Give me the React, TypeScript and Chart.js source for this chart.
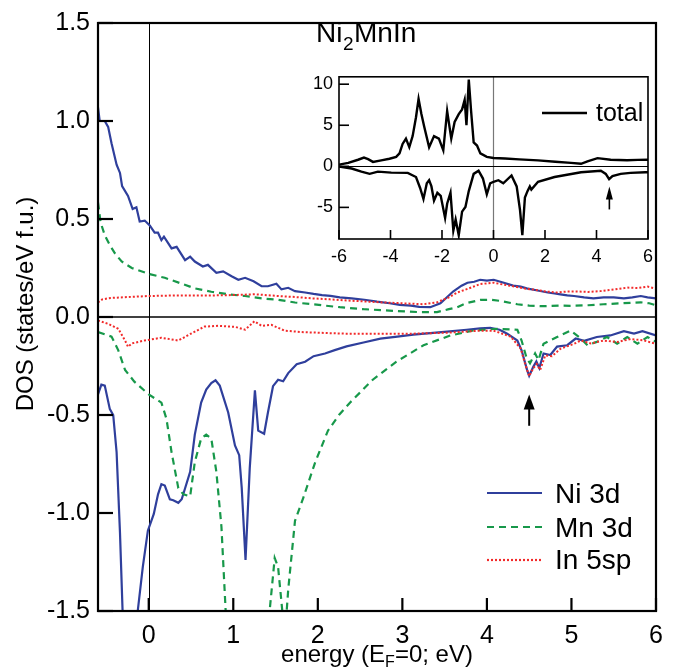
import React, { useEffect, useRef } from "react";
import { Chart, registerables } from "chart.js";
Chart.register(...registerables);

const FONT = '"Liberation Sans", Arial, Helvetica, sans-serif';
const BLUE = "#2f3f9c";
const GREEN = "#17984a";
const RED = "#f22a2a";

// ---------- main panel data: [energy (eV), DOS (states/eV f.u.)] ----------
const niUp: number[][] = [
  [-0.6, 1.07], [-0.58, 1.0], [-0.52, 1.0], [-0.48, 0.97], [-0.44, 0.886], [-0.38, 0.777], [-0.34, 0.735],
  [-0.315, 0.668], [-0.245, 0.618], [-0.19, 0.551], [-0.146, 0.56], [-0.107, 0.487], [-0.047, 0.492],
  [0.012, 0.467], [0.07, 0.43], [0.11, 0.43], [0.15, 0.392], [0.18, 0.41], [0.27, 0.35], [0.33, 0.358],
  [0.43, 0.29], [0.49, 0.308], [0.545, 0.283], [0.64, 0.258], [0.7, 0.266], [0.8, 0.225], [0.88, 0.233],
  [0.98, 0.208], [1.06, 0.19], [1.14, 0.2], [1.24, 0.182], [1.335, 0.157], [1.41, 0.157], [1.51, 0.17],
  [1.57, 0.141], [1.65, 0.149], [1.73, 0.132], [1.85, 0.125], [1.95, 0.118], [2.05, 0.112], [2.15, 0.108],
  [2.26, 0.1], [2.4, 0.095], [2.55, 0.088], [2.7, 0.078], [2.85, 0.07], [2.97, 0.062], [3.1, 0.058],
  [3.2, 0.052], [3.33, 0.05], [3.45, 0.07], [3.6, 0.13], [3.7, 0.16], [3.77, 0.175], [3.85, 0.18],
  [3.92, 0.19], [4.0, 0.186], [4.08, 0.19], [4.2, 0.175], [4.31, 0.16], [4.4, 0.155], [4.47, 0.146],
  [4.6, 0.135], [4.72, 0.125], [4.8, 0.12], [4.87, 0.115], [4.95, 0.11], [5.03, 0.107], [5.15, 0.1],
  [5.26, 0.095], [5.38, 0.1], [5.5, 0.1], [5.62, 0.095], [5.72, 0.1], [5.82, 0.107], [5.9, 0.1], [6.0, 0.095],
];
const niDown: number[][] = [
  [-0.6, -0.395], [-0.56, -0.345], [-0.52, -0.35], [-0.46, -0.47], [-0.42, -0.5], [-0.38, -0.69],
  [-0.34, -1.1], [-0.31, -1.49], [-0.27, -2.0], [-0.22, -2.3], [-0.17, -2.0], [-0.13, -1.5],
  [-0.07, -1.275], [-0.01, -1.09], [0.06, -1.005], [0.11, -0.905], [0.15, -0.853], [0.19, -0.86],
  [0.25, -0.93], [0.29, -0.935], [0.35, -0.948], [0.39, -0.93], [0.49, -0.79], [0.545, -0.6],
  [0.62, -0.437], [0.68, -0.37], [0.74, -0.337], [0.79, -0.323], [0.84, -0.35], [0.94, -0.487],
  [1.02, -0.655], [1.07, -0.705], [1.1, -0.872], [1.145, -1.24], [1.195, -0.77], [1.256, -0.374],
  [1.295, -0.58], [1.365, -0.596], [1.41, -0.487], [1.47, -0.353], [1.53, -0.32], [1.59, -0.328],
  [1.65, -0.286], [1.75, -0.241], [1.85, -0.228], [1.95, -0.2], [2.085, -0.186], [2.2, -0.169],
  [2.34, -0.15], [2.54, -0.13], [2.74, -0.11], [2.94, -0.1], [3.13, -0.09], [3.33, -0.082],
  [3.53, -0.075], [3.76, -0.065], [3.92, -0.058], [4.04, -0.055], [4.15, -0.065], [4.24, -0.085],
  [4.36, -0.12], [4.41, -0.17], [4.475, -0.27], [4.5, -0.3], [4.55, -0.253], [4.585, -0.227],
  [4.62, -0.261], [4.67, -0.186], [4.75, -0.194], [4.83, -0.151], [4.95, -0.144], [5.05, -0.11],
  [5.15, -0.122], [5.3, -0.102], [5.46, -0.094], [5.62, -0.072], [5.74, -0.085], [5.84, -0.072], [6.0, -0.094],
];
const mnUp: number[][] = [
  [-0.6, 0.585], [-0.57, 0.484], [-0.52, 0.417], [-0.46, 0.367], [-0.4, 0.325], [-0.32, 0.283],
  [-0.2, 0.25], [0.0, 0.22], [0.19, 0.2], [0.39, 0.17], [0.545, 0.146], [0.74, 0.129], [0.94, 0.116],
  [1.14, 0.107], [1.335, 0.095], [1.53, 0.088], [1.73, 0.074], [1.94, 0.065], [2.26, 0.05], [2.54, 0.04],
  [2.94, 0.03], [3.2, 0.025], [3.41, 0.025], [3.55, 0.04], [3.65, 0.05], [3.75, 0.07], [3.92, 0.087],
  [4.05, 0.088], [4.16, 0.082], [4.36, 0.065], [4.5, 0.058], [4.67, 0.055], [4.85, 0.058], [4.99, 0.057],
  [5.2, 0.06], [5.38, 0.065], [5.6, 0.07], [5.82, 0.075], [5.92, 0.07], [6.0, 0.06],
];
const mnDown: number[][] = [
  [-0.6, -0.077], [-0.44, -0.1], [-0.36, -0.17], [-0.28, -0.27], [-0.17, -0.33], [0.0, -0.395],
  [0.15, -0.437], [0.21, -0.52], [0.27, -0.69], [0.35, -0.873], [0.41, -0.905], [0.49, -0.915],
  [0.545, -0.74], [0.62, -0.62], [0.68, -0.6], [0.74, -0.62], [0.8, -0.79], [0.86, -1.07], [0.91, -1.5],
  [1.0, -2.0], [1.15, -2.3], [1.3, -2.0], [1.43, -1.5], [1.49, -1.23], [1.53, -1.275], [1.58, -1.5],
  [1.615, -1.6], [1.65, -1.39], [1.73, -1.04], [1.83, -0.92], [1.97, -0.74], [2.12, -0.58], [2.25, -0.5],
  [2.38, -0.437], [2.65, -0.32], [2.93, -0.228], [3.25, -0.144], [3.57, -0.094], [3.84, -0.069],
  [4.12, -0.06], [4.36, -0.065], [4.41, -0.12], [4.47, -0.21], [4.51, -0.236], [4.57, -0.186],
  [4.61, -0.22], [4.67, -0.136], [4.83, -0.102], [4.99, -0.069], [5.09, -0.102], [5.19, -0.144],
  [5.3, -0.127], [5.42, -0.102], [5.54, -0.136], [5.66, -0.102], [5.78, -0.136], [5.9, -0.102], [6.0, -0.127],
];
const inUp: number[][] = [
  [-0.6, 0.074], [-0.55, 0.09], [-0.45, 0.097], [-0.245, 0.102], [0.0, 0.107], [0.33, 0.11], [0.74, 0.11],
  [1.0, 0.112], [1.26, 0.116], [1.5, 0.108], [1.73, 0.102], [1.94, 0.095], [2.14, 0.09], [2.44, 0.082],
  [2.74, 0.075], [3.0, 0.07], [3.25, 0.065], [3.41, 0.075], [3.55, 0.1], [3.65, 0.125], [3.78, 0.145],
  [3.92, 0.168], [4.08, 0.175], [4.2, 0.165], [4.31, 0.157], [4.45, 0.145], [4.55, 0.14], [4.7, 0.13],
  [4.83, 0.125], [4.95, 0.13], [5.07, 0.13], [5.2, 0.128], [5.34, 0.132], [5.5, 0.14], [5.66, 0.15],
  [5.78, 0.148], [5.9, 0.155], [6.0, 0.145],
];
const inDown: number[][] = [
  [-0.6, -0.018], [-0.48, -0.035], [-0.36, -0.06], [-0.28, -0.12], [-0.245, -0.152], [-0.2, -0.135],
  [-0.05, -0.12], [0.15, -0.106], [0.35, -0.12], [0.5, -0.085], [0.66, -0.049], [0.82, -0.045],
  [1.02, -0.05], [1.14, -0.065], [1.25, -0.022], [1.335, -0.045], [1.45, -0.04], [1.61, -0.07],
  [1.81, -0.077], [2.12, -0.082], [2.34, -0.085], [2.74, -0.085], [3.13, -0.085], [3.53, -0.08],
  [3.92, -0.07], [4.08, -0.07], [4.28, -0.1], [4.4, -0.161], [4.45, -0.236], [4.5, -0.302], [4.55, -0.26],
  [4.59, -0.24], [4.63, -0.27], [4.69, -0.196], [4.77, -0.2], [4.87, -0.162], [5.03, -0.137], [5.11, -0.12],
  [5.23, -0.135], [5.38, -0.12], [5.54, -0.128], [5.7, -0.112], [5.86, -0.12], [6.0, -0.137],
];

// ---------- inset data: total DOS ----------
const totalUp: number[][] = [
  [-6, 0.2], [-5.64, 0.42], [-5.26, 0.8], [-5.03, 1.07], [-4.87, 0.88], [-4.68, 0.54], [-4.36, 0.73],
  [-4.04, 0.92], [-3.78, 1.15], [-3.65, 1.57], [-3.53, 2.72], [-3.4, 3.37], [-3.27, 2.33], [-3.14, 3.68],
  [-3.01, 5.98], [-2.91, 8.2], [-2.8, 6.36], [-2.69, 4.83], [-2.5, 2.33], [-2.31, 3.68], [-2.12, 3.37],
  [-1.95, 1.95], [-1.8, 6.74], [-1.64, 3.37], [-1.51, 5.4], [-1.35, 6.36], [-1.22, 6.93], [-1.12, 8.08],
  [-1.05, 5.02], [-0.96, 10.57], [-0.87, 6.74], [-0.77, 2.91], [-0.64, 2.53], [-0.51, 1.57], [-0.26, 1.15],
  [0.0, 1.02], [0.45, 0.95], [1.0, 0.85], [1.73, 0.73], [2.4, 0.55], [3.01, 0.42], [3.4, 0.31], [3.65, 0.61],
  [4.04, 1.0], [4.55, 0.8], [5.19, 0.73], [5.6, 0.78], [6.0, 0.8],
];
const totalDown: number[][] = [
  [-6, -0.04], [-5.51, -0.27], [-5.13, -0.65], [-4.81, -0.92], [-4.49, -0.65], [-3.97, -0.77], [-3.33, -0.8],
  [-3.01, -1.3], [-2.85, -2.64], [-2.72, -3.98], [-2.59, -2.07], [-2.5, -1.69], [-2.41, -2.45], [-2.31, -4.18],
  [-2.18, -3.22], [-2.05, -3.6], [-1.88, -6.29], [-1.8, -4.56], [-1.67, -3.22], [-1.56, -7.82], [-1.47, -6.47],
  [-1.35, -8.39], [-1.22, -5.52], [-1.09, -4.94], [-0.96, -3.02], [-0.77, -0.92], [-0.58, -0.54], [-0.41, -1.49],
  [-0.26, -3.41], [-0.13, -2.07], [0.0, -1.88], [0.19, -1.69], [0.38, -2.07], [0.7, -1.11], [0.9, -2.45],
  [1.03, -5.33], [1.12, -8.39], [1.22, -3.79], [1.32, -3.02], [1.41, -2.45], [1.47, -2.84], [1.73, -1.88],
  [2.37, -1.3], [3.4, -0.73], [4.17, -0.54], [4.36, -0.92], [4.49, -1.57], [4.62, -1.19], [4.94, -0.92],
  [5.32, -0.8], [5.9, -0.73], [6.0, -0.73],
];

const mainXTicks = [0, 1, 2, 3, 4, 5, 6];
const mainYTicks = [-1.5, -1.0, -0.5, 0.0, 0.5, 1.0, 1.5];
const insetXTicks = [-6, -4, -2, 0, 2, 4, 6];
const insetYTicks = [-5, 0, 5, 10];
const legendLabels = ["Ni 3d", "Mn 3d", "In 5sp"];
const insetLegendLabel = "total";
const arrowEnergy = 4.5;
const mainArrowRange = [-0.555, -0.395];
const insetArrowRange = [-5.25, -2.45];

const toPts = (a: number[][]) => a.map(([x, y]) => ({ x, y }));
const fixedTicks = (values: number[]) => (scale: any) => {
  scale.ticks = values.map((v) => ({ value: v }));
};

function drawArrow(ctx: CanvasRenderingContext2D, x: number, yTip: number, yTail: number, headLen: number, headW: number, lw: number) {
  ctx.save();
  ctx.strokeStyle = "#000";
  ctx.fillStyle = "#000";
  ctx.lineWidth = lw;
  ctx.beginPath();
  ctx.moveTo(x, yTail);
  ctx.lineTo(x, yTip + headLen - 1);
  ctx.stroke();
  ctx.beginPath();
  ctx.moveTo(x, yTip);
  ctx.lineTo(x - headW / 2, yTip + headLen);
  ctx.lineTo(x + headW / 2, yTip + headLen);
  ctx.closePath();
  ctx.fill();
  ctx.restore();
}

const mainPlugin = {
  id: "mainDecor",
  beforeDatasetsDraw(chart: any) {
    const { ctx, chartArea: a, scales } = chart;
    const x = scales.x, y = scales.y;
    ctx.save();
    ctx.strokeStyle = "#000";
    ctx.lineWidth = 1;
    const x0 = Math.round(x.getPixelForValue(0)) + 0.5;
    ctx.beginPath(); ctx.moveTo(x0, a.top); ctx.lineTo(x0, a.bottom); ctx.stroke();
    ctx.lineWidth = 1.4;
    const y0 = y.getPixelForValue(0);
    ctx.beginPath(); ctx.moveTo(a.left, y0); ctx.lineTo(a.right, y0); ctx.stroke();
    ctx.restore();
  },
  afterDraw(chart: any) {
    const { ctx, chartArea: a, scales } = chart;
    const x = scales.x, y = scales.y;
    ctx.save();
    ctx.strokeStyle = "#000";
    ctx.lineWidth = 2.2;
    ctx.strokeRect(a.left, a.top, a.right - a.left, a.bottom - a.top);
    mainXTicks.forEach((v) => {
      const px = x.getPixelForValue(v);
      ctx.beginPath(); ctx.moveTo(px, a.bottom); ctx.lineTo(px, a.bottom - 13); ctx.stroke();
    });
    mainYTicks.forEach((v) => {
      const py = y.getPixelForValue(v);
      ctx.beginPath(); ctx.moveTo(a.left, py); ctx.lineTo(a.left + 15, py); ctx.stroke();
    });
    // title Ni2MnIn
    ctx.fillStyle = "#000";
    ctx.textBaseline = "alphabetic";
    ctx.textAlign = "left";
    let tx = 316;
    ctx.font = `28px ${FONT}`;
    ctx.fillText("Ni", tx, 42); tx += ctx.measureText("Ni").width + 0.5;
    ctx.font = `19px ${FONT}`;
    ctx.fillText("2", tx, 50); tx += ctx.measureText("2").width + 0.5;
    ctx.font = `28px ${FONT}`;
    ctx.fillText("MnIn", tx, 42);
    // x axis title
    const p1 = "energy (E", sub = "F", p2 = "=0; eV)";
    ctx.font = `24px ${FONT}`;
    const w1 = ctx.measureText(p1).width, w3 = ctx.measureText(p2).width;
    ctx.font = `16px ${FONT}`;
    const w2 = ctx.measureText(sub).width;
    let sx = (a.left + a.right) / 2 - (w1 + w2 + w3) / 2;
    ctx.font = `24px ${FONT}`;
    ctx.fillText(p1, sx, 662); sx += w1;
    ctx.font = `16px ${FONT}`;
    ctx.fillText(sub, sx, 667); sx += w2;
    ctx.font = `24px ${FONT}`;
    ctx.fillText(p2, sx, 662);
    // y axis title
    ctx.save();
    ctx.translate(33, 304);
    ctx.rotate(-Math.PI / 2);
    ctx.textAlign = "center";
    ctx.font = `24px ${FONT}`;
    ctx.fillText("DOS (states/eV f.u.)", 0, 0);
    ctx.restore();
    // legend
    const rows = [
      { c: BLUE, dash: [] as number[], ly: 493, ty: 503 },
      { c: GREEN, dash: [7, 5], ly: 527, ty: 537 },
      { c: RED, dash: [2, 2], ly: 560, ty: 569 },
    ];
    rows.forEach((r, i) => {
      ctx.save();
      ctx.strokeStyle = r.c;
      ctx.lineWidth = 2.2;
      ctx.setLineDash(r.dash);
      ctx.beginPath(); ctx.moveTo(487, r.ly); ctx.lineTo(542, r.ly); ctx.stroke();
      ctx.restore();
      ctx.font = `28px ${FONT}`;
      ctx.fillStyle = "#000";
      ctx.textAlign = "left";
      ctx.fillText(legendLabels[i], 555, r.ty);
    });
    drawArrow(ctx, x.getPixelForValue(arrowEnergy), y.getPixelForValue(mainArrowRange[1]), y.getPixelForValue(mainArrowRange[0]), 15, 11, 2);
    ctx.restore();
  },
};

const insetPlugin = {
  id: "insetDecor",
  beforeDatasetsDraw(chart: any) {
    const { ctx, chartArea: a, scales } = chart;
    const x = scales.x, y = scales.y;
    ctx.save();
    ctx.strokeStyle = "#777";
    ctx.lineWidth = 1.2;
    const x0 = x.getPixelForValue(0);
    ctx.beginPath(); ctx.moveTo(x0, a.top); ctx.lineTo(x0, a.bottom); ctx.stroke();
    ctx.strokeStyle = "#000";
    ctx.lineWidth = 1;
    const y0 = Math.round(y.getPixelForValue(0)) + 0.5;
    ctx.beginPath(); ctx.moveTo(a.left, y0); ctx.lineTo(a.right, y0); ctx.stroke();
    ctx.restore();
  },
  afterDraw(chart: any) {
    const { ctx, chartArea: a, scales } = chart;
    const x = scales.x, y = scales.y;
    ctx.save();
    ctx.strokeStyle = "#000";
    ctx.lineWidth = 1.6;
    ctx.strokeRect(a.left, a.top, a.right - a.left, a.bottom - a.top);
    insetXTicks.forEach((v) => {
      const px = x.getPixelForValue(v);
      ctx.beginPath(); ctx.moveTo(px, a.bottom); ctx.lineTo(px, a.bottom - 9); ctx.stroke();
    });
    insetYTicks.forEach((v) => {
      const py = y.getPixelForValue(v);
      ctx.beginPath(); ctx.moveTo(a.left, py); ctx.lineTo(a.left + 10, py); ctx.stroke();
    });
    ctx.lineWidth = 2.5;
    ctx.beginPath(); ctx.moveTo(242, 53); ctx.lineTo(287, 53); ctx.stroke();
    ctx.fillStyle = "#000";
    ctx.font = `25px ${FONT}`;
    ctx.textAlign = "left";
    ctx.textBaseline = "alphabetic";
    ctx.fillText(insetLegendLabel, 296, 61);
    drawArrow(ctx, x.getPixelForValue(arrowEnergy), y.getPixelForValue(insetArrowRange[1]), y.getPixelForValue(insetArrowRange[0]), 13, 7, 1.6);
    ctx.restore();
  },
};

export default function App() {
  const mainRef = useRef<HTMLCanvasElement>(null);
  const insetRef = useRef<HTMLCanvasElement>(null);

  useEffect(() => {
    document.body.style.margin = "0";
    const tickFont = (size: number) => ({ family: FONT, size });
    const line = (data: number[][], color: string, dash: number[], width: number) => ({
      data: toPts(data),
      borderColor: color,
      borderWidth: width,
      borderDash: dash,
      pointRadius: 0,
      tension: 0,
      fill: false,
    });
    const main = new Chart(mainRef.current as HTMLCanvasElement, {
      type: "line",
      data: {
        datasets: [
          line(inUp, RED, [2, 2], 2),
          line(inDown, RED, [2, 2], 2),
          line(mnUp, GREEN, [7, 5], 2.2),
          line(mnDown, GREEN, [7, 5], 2.2),
          line(niUp, BLUE, [], 2.2),
          line(niDown, BLUE, [], 2.2),
        ] as any,
      },
      options: {
        animation: false,
        responsive: false,
        devicePixelRatio: 1,
        layout: { padding: { left: 0, top: 15, right: 21, bottom: 0 } },
        plugins: { legend: { display: false }, tooltip: { enabled: false } },
        scales: {
          x: {
            type: "linear",
            min: -0.6,
            max: 6,
            afterBuildTicks: fixedTicks(mainXTicks),
            afterFit: (s: any) => { s.height = 57; },
            grid: { display: false, drawTicks: false },
            border: { display: false },
            ticks: { font: tickFont(25), color: "#000", padding: 10, autoSkip: false, maxRotation: 0, callback: (v: any) => String(v) },
          },
          y: {
            type: "linear",
            min: -1.5,
            max: 1.5,
            afterBuildTicks: fixedTicks(mainYTicks),
            afterFit: (s: any) => { s.width = 98; },
            grid: { display: false, drawTicks: false },
            border: { display: false },
            ticks: { font: tickFont(25), color: "#000", padding: 8, autoSkip: false, callback: (v: any) => Number(v).toFixed(1) },
          },
        },
      } as any,
      plugins: [mainPlugin],
    });
    const inset = new Chart(insetRef.current as HTMLCanvasElement, {
      type: "line",
      data: {
        datasets: [line(totalUp, "#000", [], 2.4), line(totalDown, "#000", [], 2.4)] as any,
      },
      options: {
        animation: false,
        responsive: false,
        devicePixelRatio: 1,
        layout: { padding: { left: 0, top: 7, right: 9, bottom: 0 } },
        plugins: { legend: { display: false }, tooltip: { enabled: false } },
        scales: {
          x: {
            type: "linear",
            min: -6,
            max: 6,
            afterBuildTicks: fixedTicks(insetXTicks),
            afterFit: (s: any) => { s.height = 31; },
            grid: { display: false, drawTicks: false },
            border: { display: false },
            ticks: { font: tickFont(18), color: "#000", padding: 7, autoSkip: false, maxRotation: 0, callback: (v: any) => String(v) },
          },
          y: {
            type: "linear",
            min: -8.85,
            max: 10.9,
            afterBuildTicks: fixedTicks(insetYTicks),
            afterFit: (s: any) => { s.width = 39; },
            grid: { display: false, drawTicks: false },
            border: { display: false },
            ticks: { font: tickFont(18), color: "#000", padding: 6, autoSkip: false, callback: (v: any) => String(v) },
          },
        },
      } as any,
      plugins: [insetPlugin],
    });
    return () => {
      main.destroy();
      inset.destroy();
    };
  }, []);

  return (
    <div style={{ position: "relative", width: 677, height: 668, background: "#fff" }}>
      <canvas ref={mainRef} width={677} height={668} style={{ position: "absolute", left: 0, top: 0, width: 677, height: 668 }} />
      <canvas ref={insetRef} width={360} height={210} style={{ position: "absolute", left: 300, top: 60, width: 360, height: 210 }} />
    </div>
  );
}
